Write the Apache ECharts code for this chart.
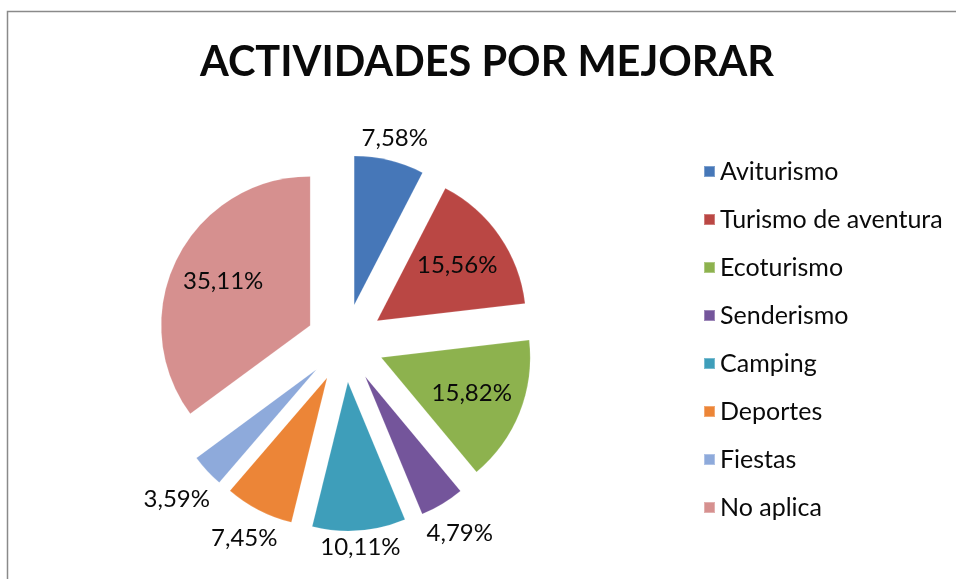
<!DOCTYPE html>
<html>
<head>
<meta charset="utf-8">
<script src="https://cdn.jsdelivr.net/npm/echarts@6/dist/echarts.min.js"></script>
<style>
html,body{margin:0;padding:0;background:#fff;}
#chart{width:956px;height:579px;}
</style>
</head>
<body>
<div id="chart"></div>
<script>
const categories = ['Aviturismo','Turismo de aventura','Ecoturismo','Senderismo','Camping','Deportes','Fiestas','No aplica'];
const values = [7.58, 15.56, 15.82, 4.79, 10.11, 7.45, 3.59, 35.11];
const colors = ['#4677B8','#BA4744','#8DB24E','#74559B','#3E9EBA','#EC8537','#8EAADB','#D6908F'];
const labelInside = [false, true, true, false, false, false, false, true];
const titleText = 'ACTIVIDADES POR MEJORAR';

const FONT = 'Lato, "Open Sans", sans-serif';
const center = [345, 343];
const R = 149;
const OFFSET = 39;
const fmt = v => v.toFixed(2).replace('.', ',') + '%';

const mainData = categories.map((c, i) => ({
  name: c, value: values[i], selected: true,
  itemStyle: { color: colors[i] }
}));

// Outside labels: keep the library's radial direction, but pull the label box in so it sits just clear of the slice edge.
// labelRect is reported before the selection offset is applied.
const outsideLabelLayout = function (params) {
  const r = params.labelRect;
  const lx = r.x + r.width / 2, ly = r.y + r.height / 2;
  let ux = lx - center[0], uy = ly - center[1];
  const len = Math.sqrt(ux * ux + uy * uy) || 1;
  ux /= len; uy /= len;
  const half = (r.width / 2 + 10) * Math.abs(ux) + (r.height / 2 - 2) * Math.abs(uy);
  const shift = R + 3 + half - len;
  return { dx: shift * ux, dy: shift * uy };
};

const labelSeries = (inside, radius) => ({
  type: 'pie', center: center, radius: radius,
  selectedMode: 'multiple', selectedOffset: OFFSET,
  startAngle: 90, clockwise: true,
  legendHoverLink: false,
  itemStyle: { color: 'rgba(0,0,0,0)', borderWidth: 0 },
  emphasis: { disabled: true },
  label: {
    position: 'inside', color: '#0a0a0a', fontFamily: FONT, fontSize: 24,
    formatter: p => fmt(p.value)
  },
  labelLine: { show: false },
  labelLayout: inside ? undefined : outsideLabelLayout,
  data: categories.map((c, i) => ({
    name: c, value: values[i], selected: true,
    label: { show: labelInside[i] === inside }
  })),
  z: 5
});

const chart = echarts.init(document.getElementById('chart'), null, { renderer: 'canvas' });
chart.setOption({
  animation: false,
  backgroundColor: '#ffffff',
  title: {
    text: titleText, left: 482, top: 37, textAlign: 'center',
    textStyle: { fontFamily: FONT, fontWeight: 'bold', fontSize: 41.5, color: '#0a0a0a' }
  },
  legend: {
    orient: 'vertical', left: 698, top: 154,
    itemWidth: 11, itemHeight: 11, itemGap: 23, icon: 'rect',
    textStyle: { fontFamily: FONT, fontSize: 25, color: '#0a0a0a' },
    selectedMode: false,
    data: categories
  },
  graphic: [{
    type: 'rect', shape: { x: 7.5, y: 11.5, width: 1200, height: 900 },
    style: { fill: 'none', stroke: '#8a8a8a', lineWidth: 1.5 }, silent: true
  }],
  series: [
    {
      name: 'main', type: 'pie', center: center, radius: [0, R],
      selectedMode: 'multiple', selectedOffset: OFFSET,
      startAngle: 90, clockwise: true,
      itemStyle: { borderColor: 'rgba(255,255,255,0.3)', borderWidth: 0.5 },
      emphasis: { disabled: true },
      label: { show: false }, labelLine: { show: false },
      data: mainData
    },
    labelSeries(true, [40, R]),
    labelSeries(false, [R, R + 60])
  ]
});
</script>
</body>
</html>
